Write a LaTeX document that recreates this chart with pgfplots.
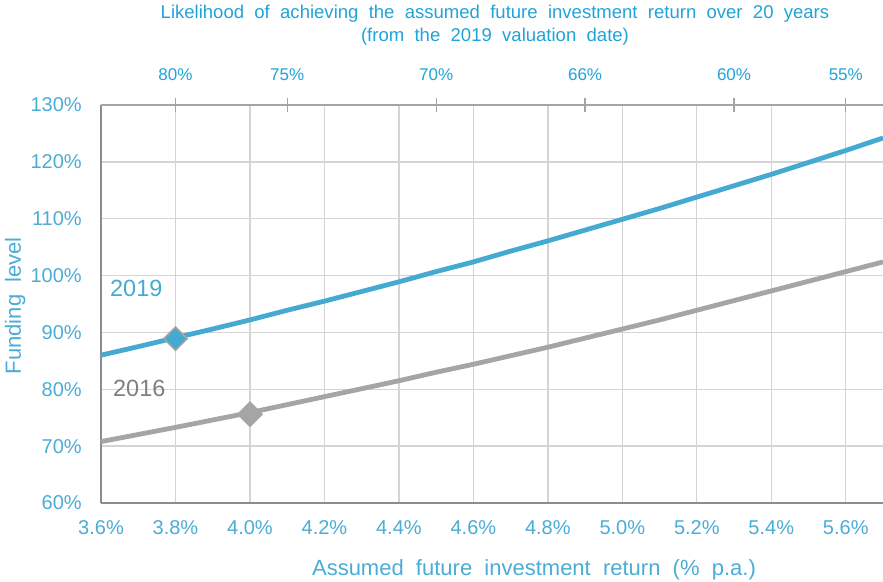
\documentclass[border=0pt]{standalone}
\usepackage{pgfplots}
\pgfplotsset{compat=1.18}
\usepackage{fontspec}
\setmainfont{Liberation Sans}
\newfontfamily\wsfont{Liberation Sans}[WordSpace=2]
\definecolor{cblue}{HTML}{45AAD1}
\definecolor{tblue}{HTML}{4BACD6}
\definecolor{titleblue}{HTML}{1FA3D9}
\definecolor{cgray}{HTML}{A5A5A5}
\definecolor{lgray}{HTML}{7F7F7F}
\definecolor{gridc}{HTML}{D4D4D4}
\definecolor{axc}{HTML}{8C8C8C}

\pgfplotstableread{
r     f2019  f2016
3.6   86.0   70.8
3.7   87.5   72.05
3.8   89.06  73.3
3.9   90.6   74.6
4.0   92.2   75.9
4.1   93.9   77.3
4.2   95.5   78.7
4.3   97.2   80.1
4.4   98.9   81.5
4.5   100.7  83.0
4.6   102.4  84.4
4.7   104.3  85.9
4.8   106.1  87.4
4.9   108.0  89.0
5.0   109.9  90.6
5.1   111.8  92.2
5.2   113.8  93.9
5.3   115.8  95.6
5.4   117.8  97.3
5.5   119.9  99.0
5.6   122.0  100.7
5.7   124.2  102.4
}\datatable

\begin{document}
\begin{tikzpicture}
\begin{axis}[
  at={(0pt,0pt)}, anchor=south west,
  scale only axis, width=586.5pt, height=298.5pt,
  xmin=3.6, xmax=5.7, ymin=60, ymax=130,
  axis x line*=bottom, axis y line*=left,
  x axis line style={-}, y axis line style={-},
  axis line style={draw=axc, line width=1.1pt},
  xtick={3.6,3.8,4.0,4.2,4.4,4.6,4.8,5.0,5.2,5.4,5.6},
  xticklabels={3.6\%,3.8\%,4.0\%,4.2\%,4.4\%,4.6\%,4.8\%,5.0\%,5.2\%,5.4\%,5.6\%},
  ytick={60,70,80,90,100,110,120,130},
  yticklabels={60\%,70\%,80\%,90\%,100\%,110\%,120\%,130\%},
  major tick length=0pt,
  grid=major, major grid style={draw=gridc, line width=1pt},
  tick label style={font=\fontsize{15}{17.5}\selectfont, text=tblue},
  xticklabel style={anchor=base, yshift=-24pt},
  yticklabel style={anchor=east, inner sep=0pt, xshift=-14.25pt},
  /pgf/number format/assume math mode=true,
]
\addplot[cgray, line width=3.6pt] table[x=r, y=f2016] {\datatable};
\addplot[cblue, line width=3.6pt] table[x=r, y=f2019] {\datatable};
\addplot[only marks, mark=square*, mark size=6.2pt, mark options={rotate=45, fill=cblue, draw=cgray, line width=1.1pt}] coordinates {(3.8,88.9)};
\addplot[only marks, mark=square*, mark size=6.4pt, mark options={rotate=45, fill=cgray, draw=cgray, line width=1.1pt}] coordinates {(4.0,75.6)};
\node[anchor=base west, inner sep=0pt, text=cblue, font=\fontsize{17.6}{20}\selectfont] at (axis cs:3.624,96.4) {2019};
\node[anchor=base west, inner sep=0pt, text=lgray, font=\fontsize{17.6}{20}\selectfont] at (axis cs:3.632,78.65) {2016};
\end{axis}
\begin{axis}[
  at={(0pt,0pt)}, anchor=south west,
  scale only axis, width=586.5pt, height=298.5pt,
  xmin=3.6, xmax=5.7, ymin=60, ymax=130,
  axis x line*=top, hide y axis,
  x axis line style={-, draw=cgray, line width=1.5pt},
  xtick={3.8,4.1,4.5,4.9,5.3,5.6},
  xticklabels={80\%,75\%,70\%,66\%,60\%,55\%},
  tick align=center, major tick length=10.5pt,
  major tick style={draw=cgray, line width=0.9pt},
  ytick=\empty,
  xticklabel style={font=\fontsize{12.75}{15}\selectfont, text=titleblue, anchor=base, yshift=13.3pt},
  /pgf/number format/assume math mode=true,
]
\addplot[draw=none] coordinates {(3.6,60)};
\end{axis}
\node[anchor=base, inner sep=0pt, text=titleblue, font=\wsfont\fontsize{13.9}{16}\selectfont] at (295.5pt,363pt) {Likelihood of achieving the assumed future investment return over 20 years};
\node[anchor=base, inner sep=0pt, text=titleblue, font=\wsfont\fontsize{13.9}{16}\selectfont] at (295.5pt,345.75pt) {(from the 2019 valuation date)};
\node[anchor=base, inner sep=0pt, text=tblue, font=\wsfont\fontsize{16.5}{19}\selectfont] at (324.75pt,-54.75pt) {Assumed future investment return (\% p.a.)};
\node[anchor=base, inner sep=0pt, rotate=90, text=tblue, font=\wsfont\fontsize{16.5}{19}\selectfont] at (-60pt,148pt) {Funding level};
\pgfresetboundingbox
\path[use as bounding box] (-75.75pt,-59.25pt) rectangle (586.5pt,377.25pt);
\end{tikzpicture}
\end{document}
